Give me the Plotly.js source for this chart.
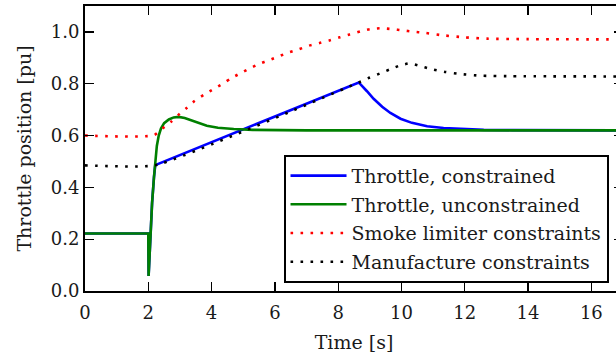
<!DOCTYPE html>
<html>
<head>
<meta charset="utf-8">
<script src="https://cdn.plot.ly/plotly-3.0.1.min.js"></script>
<style>
html, body { margin: 0; padding: 0; overflow: hidden; background: #fff; width: 616px; height: 358px; }
#chart { width: 630px; height: 358px; }
</style>
</head>
<body>
<div id="chart"></div>
<script>
// Throttle, constrained
const constrainedX = [0, 2.0, 2.01, 2.06, 2.12, 2.18, 2.22, 8.65, 8.78, 8.91, 9.12, 9.39, 9.65, 9.97, 10.33, 10.81, 11.33, 11.97, 12.6, 13.5, 17];
const constrainedY = [0.222, 0.222, 0.058, 0.20, 0.34, 0.44, 0.486, 0.805, 0.789, 0.771, 0.742, 0.711, 0.687, 0.665, 0.649, 0.636, 0.629, 0.625, 0.622, 0.621, 0.620];

// Throttle, unconstrained
const unconstrainedX = [0, 2.0, 2.01, 2.06, 2.12, 2.18, 2.22, 2.27, 2.33, 2.4, 2.5, 2.65, 2.8, 2.96, 3.15, 3.35, 3.55, 3.85, 4.2, 4.7, 5.3, 6.0, 7.0, 17];
const unconstrainedY = [0.222, 0.222, 0.058, 0.20, 0.34, 0.44, 0.49, 0.56, 0.60, 0.627, 0.648, 0.662, 0.670, 0.672, 0.668, 0.659, 0.650, 0.638, 0.630, 0.625, 0.622, 0.621, 0.620, 0.620];

// Smoke limiter constraints
const smokeX = [0, 2.17, 2.43, 2.70, 2.94, 3.2, 3.46, 3.75, 4.07, 4.35, 4.60, 4.89, 5.19, 5.51, 5.82, 6.13, 6.45, 6.76, 7.08, 7.41, 7.72, 8.05, 8.36, 8.70, 9.02, 9.36, 9.70, 10.04, 10.37, 10.70, 11.3, 12.0, 12.7, 14.0, 17];
const smokeY = [0.600, 0.601, 0.626, 0.651, 0.678, 0.705, 0.733, 0.757, 0.780, 0.800, 0.820, 0.839, 0.858, 0.877, 0.891, 0.906, 0.921, 0.933, 0.947, 0.957, 0.967, 0.979, 0.990, 1.002, 1.011, 1.014, 1.011, 1.006, 1.001, 0.997, 0.987, 0.979, 0.974, 0.972, 0.971];

// Manufacture constraints
const manufX = [0, 2.22, 8.65, 9.0, 9.31, 9.63, 9.94, 10.26, 10.58, 10.89, 11.4, 11.9, 12.5, 13.5, 17];
const manufY = [0.485, 0.485, 0.805, 0.824, 0.839, 0.855, 0.870, 0.879, 0.869, 0.858, 0.845, 0.837, 0.831, 0.829, 0.828];

const seriesNames = ["Throttle, constrained", "Throttle, unconstrained", "Smoke limiter constraints", "Manufacture constraints"];
const xTicks = [0, 2, 4, 6, 8, 10, 12, 14, 16];
const yTicks = [0.0, 0.2, 0.4, 0.6, 0.8, 1.0];

const FONT = "DejaVu Serif";
const INK = "#1a1a1a";

const traces = [
  {x: constrainedX, y: constrainedY, name: seriesNames[0], legendgroup: "g1", mode: "lines",
   line: {color: "#0000ff", width: 2.6}},
  {x: unconstrainedX, y: unconstrainedY, name: seriesNames[1], legendgroup: "g2", mode: "lines",
   line: {color: "#008000", width: 2.6}},
  {x: smokeX, y: smokeY, name: seriesNames[2], legendgroup: "g3", mode: "lines", line: {shape: "spline", smoothing: 0.6,
   color: "#ff0000", width: 2.6, dash: "2.6px,7.4px"}},
  {x: manufX, y: manufY, name: seriesNames[3], legendgroup: "g4", mode: "lines", line: {shape: "spline", smoothing: 0.4,
   color: "#000000", width: 2.6, dash: "2.6px,7.4px"}}
];

const axisCommon = {
  showline: true, linewidth: 2, linecolor: "#000", mirror: "ticks",
  ticks: "inside", ticklen: 9, tickwidth: 1.3, tickcolor: "#000",
  showgrid: false, zeroline: false,
  tickfont: {family: FONT, size: 18, color: INK}
};

const layout = {
  width: 630, height: 358,
  margin: {l: 85, r: 7, t: 6, b: 67},
  paper_bgcolor: "#fff", plot_bgcolor: "#fff",
  font: {family: FONT, size: 18, color: INK},
  showlegend: true,
  legend: {
    x: 0.369, y: 0.478, xanchor: "left", yanchor: "top",
    bgcolor: "#fff", bordercolor: "#000", borderwidth: 2,
    font: {family: FONT, size: 19, color: INK},
    tracegroupgap: 1, itemwidth: 56,
    entrywidth: 323, entrywidthmode: "pixels"
  },
  xaxis: Object.assign({}, axisCommon, {
    range: [0, 17], tickvals: xTicks, ticktext: xTicks.map(String), ticklabelstandoff: 4,
    title: {text: "Time [s]", font: {family: FONT, size: 19, color: INK}, standoff: 14}
  }),
  yaxis: Object.assign({}, axisCommon, {
    range: [0, 1.1], tickvals: yTicks, ticktext: yTicks.map(v => v.toFixed(1)),
    title: {text: "Throttle position [pu]", font: {family: FONT, size: 19, color: INK}, standoff: 14}
  })
};

Plotly.newPlot("chart", traces, layout, {displayModeBar: false, staticPlot: true});
</script>
</body>
</html>
